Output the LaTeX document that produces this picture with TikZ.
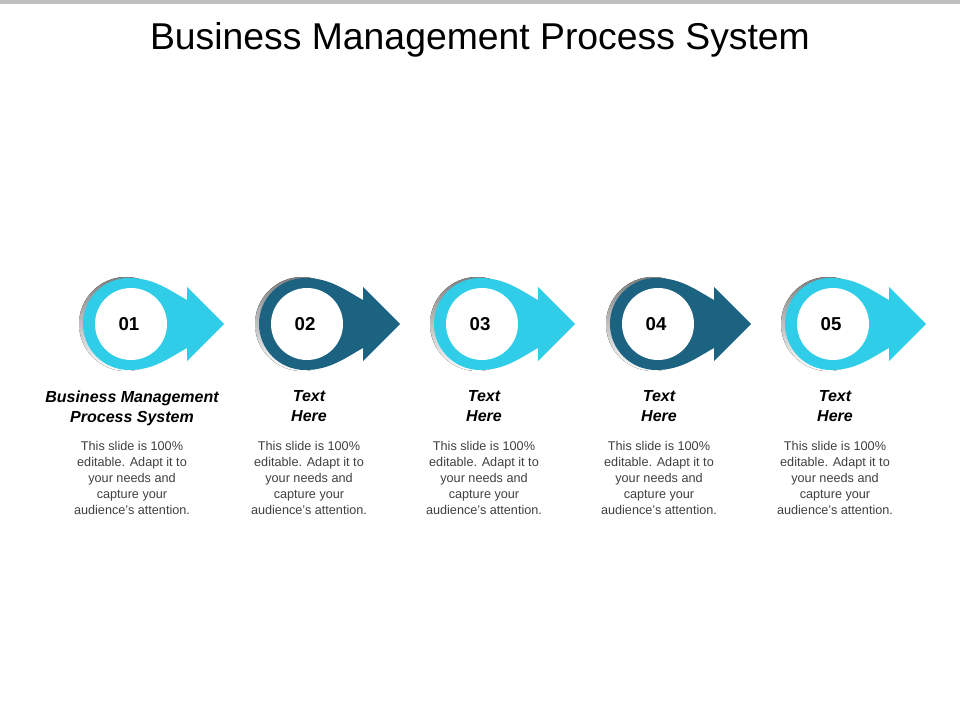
\documentclass[tikz,border=0pt]{standalone}
\usepackage{fontspec}
\setmainfont{Liberation Sans}
\definecolor{lightc}{HTML}{2FCDE8}
\definecolor{darkc}{HTML}{1C6382}
\definecolor{shade}{HTML}{E4E4E4}
\begin{document}
\begin{tikzpicture}[x=0.75pt,y=-0.75pt,
  numtxt/.style={font=\fontsize{14}{16}\selectfont\bfseries},
  headtxt/.style={font=\fontsize{12}{15}\selectfont\bfseries\itshape,align=center,anchor=north},
  bodytxt/.style={font=\fontsize{9.5}{12}\selectfont,align=center,anchor=north,text=black!75}]
\useasboundingbox (0,0) rectangle (960,720);
\fill[black!25] (0,0) rectangle (960,4);
\node[font=\fontsize{28}{32}\selectfont] (title) at (480,40) {Business Management Process System};
\newcommand{\pinshape}[1]{(#1+58,300) .. controls (#1+40,290) and (#1+25,278) .. (#1,278)
  arc[start angle=-90,end angle=-270,radius=46]
  .. controls (#1+25,370) and (#1+40,358) .. (#1+58,348) -- (#1+58,361) -- (#1+95,324) -- (#1+58,287) -- cycle}
\foreach \cx/\col/\n/\i in {129/lightc/01/1, 305/darkc/02/2, 480/lightc/03/3, 656/darkc/04/4, 831/lightc/05/5}{
  \fill[shade] (\cx-3,324) circle[radius=47];
  \fill[\col] \pinshape{\cx};
  \fill[white] (\cx+2,324) circle[radius=36];
  \node[numtxt] (n\i) at (\cx,324) {\n};
}
\node[headtxt] (h1) at (132,386) {Business Management\\Process System};
\foreach \cx/\i in {309/2, 484/3, 659/4, 835/5}{
  \node[headtxt] (h\i) at (\cx,386) {Text\\Here};
}
\foreach \cx/\i in {132/1, 309/2, 484/3, 659/4, 835/5}{
  \node[bodytxt] (b\i) at (\cx,437) {This slide is 100\%\\editable. Adapt it to\\your needs and\\capture your\\audience's attention.};
}
\end{tikzpicture}
\end{document}
